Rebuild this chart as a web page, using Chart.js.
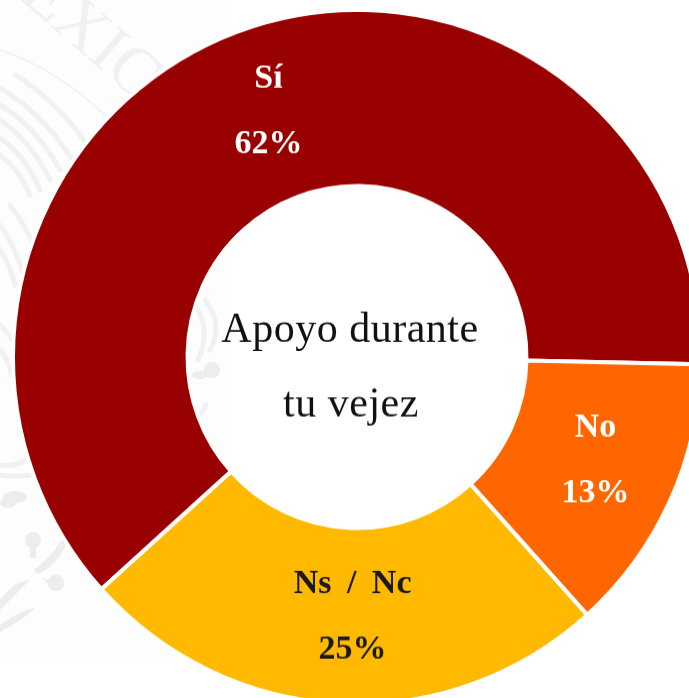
<!DOCTYPE html>
<html lang="es">
<head>
<meta charset="utf-8">
<style>
html,body{margin:0;padding:0;width:689px;height:698px;overflow:hidden;background:#fff}
#wm{position:absolute;left:0;top:0}
#box{position:absolute;left:0;top:0;width:714px;height:714px;transform-origin:357px 357px;transform:scaleY(1.0088)}
</style>
</head>
<body>
<svg id="wm" width="225" height="658" viewBox="0 0 225 658">
  <rect width="225" height="658" fill="#fdfdfd"/>
  <text transform="translate(18,-2) rotate(41)" font-family="Liberation Serif" font-size="68" fill="#f1f1f1">EXIC</text>
  <path d="M0 50Q60 70 112 122" fill="none" stroke="#f3f3f3" stroke-width="2"/>
  <g fill="none" stroke="#f1f1f1" stroke-width="5" stroke-linecap="round">
    <path d="M16 75Q60 105 85 142"/><path d="M0 88Q45 115 72 160"/><path d="M0 105Q35 125 60 170"/>
    <path d="M0 120Q30 140 50 180"/><path d="M0 138Q25 155 40 190"/><path d="M0 155Q20 170 30 195"/>
    <path d="M10 205Q30 230 40 265"/><path d="M0 225Q15 245 25 280"/><path d="M0 250Q10 265 15 285"/>
    <path d="M0 325Q10 335 15 345"/><path d="M0 350Q8 358 12 375"/>
    <path d="M195 305Q212 330 198 360"/><path d="M205 300Q224 325 210 350"/>
    <path d="M195 420Q205 410 206 405"/>
    <path d="M0 465Q30 470 40 435"/><path d="M0 475Q35 480 55 465"/>
  </g>
  <g fill="#ededed" stroke="none">
    <ellipse cx="15" cy="497" rx="12" ry="6"/><ellipse cx="8" cy="503" rx="8" ry="5"/>
    <circle cx="33" cy="540" r="8"/><rect x="30" y="542" width="6" height="16"/>
    <circle cx="56" cy="583" r="8"/><path d="M42 578l12 3-3 6z"/>
    <path d="M34 570Q55 555 70 525l4 3Q60 565 38 574z"/>
    <path d="M0 600Q15 580 30 580Q15 595 0 610z"/><path d="M0 625Q20 610 35 608Q20 622 0 632z"/>
    <circle cx="212" cy="370" r="8"/><ellipse cx="200" cy="375" rx="8" ry="4"/>
  </g>
</svg>
<div id="box"><canvas id="c"></canvas></div>
<script src="https://cdn.jsdelivr.net/npm/chart.js@4"></script>
<script>
const categories = ["Sí", "No", "Ns / Nc"];
const values = [62, 13, 25];
const sliceColors = ["#990000", "#FF6600", "#FFB900"];
const labelColors = ["#ffffff", "#ffffff", "#1a1a1a"];
const centerLines = ["Apoyo durante", "tu vejez"];

const serif = '"Liberation Serif", serif';
const labelNudge = [[1, -2], [5, -4], [9, 2]];
const textPlugin = {
  id: "textPlugin",
  afterDatasetsDraw(chart) {
    const ctx = chart.ctx;
    const arcs = chart.getDatasetMeta(0).data;
    ctx.save();
    ctx.textAlign = "center";
    ctx.textBaseline = "middle";
    ctx.font = "bold 34px " + serif;
    ctx.wordSpacing = "7px";
    arcs.forEach((arc, i) => {
      const p = arc.tooltipPosition();
      const x = p.x + labelNudge[i][0], y = p.y + labelNudge[i][1];
      ctx.fillStyle = labelColors[i];
      ctx.fillText(categories[i], x, y - 33);
      ctx.fillText(values[i] + "%", x, y + 32);
    });
    const c = arcs[0];
    ctx.wordSpacing = "0px";
    ctx.letterSpacing = "0.5px";
    ctx.font = "42px " + serif;
    ctx.fillStyle = "#111111";
    ctx.fillText(centerLines[0], c.x - 7, c.y - 26);
    ctx.fillText(centerLines[1], c.x - 6, c.y + 48);
    ctx.restore();
  }
};

new Chart(document.getElementById("c"), {
  type: "doughnut",
  data: {
    labels: categories,
    datasets: [{
      data: values,
      backgroundColor: sliceColors,
      borderColor: "#ffffff",
      borderWidth: 4,
      hoverOffset: 0
    }]
  },
  options: {
    responsive: true,
    maintainAspectRatio: false,
    animation: false,
    radius: 344,
    cutout: "49.27%",
    rotation: 228,
    layout: { padding: 0 },
    plugins: { legend: { display: false }, tooltip: { enabled: false } }
  },
  plugins: [textPlugin]
});
</script>
</body>
</html>
